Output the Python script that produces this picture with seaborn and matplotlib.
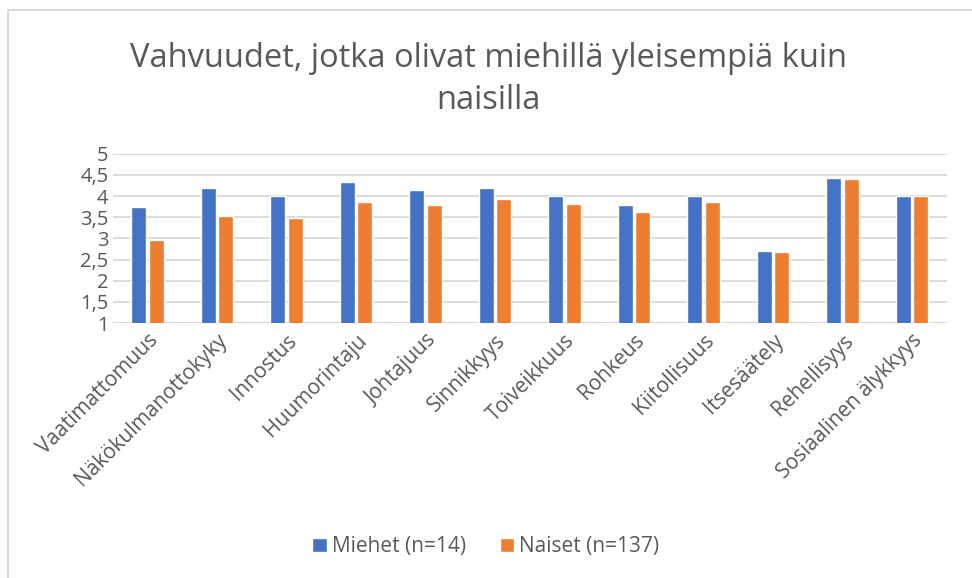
import seaborn as sns
import matplotlib.pyplot as plt
import matplotlib.lines as mlines
import pandas as pd

categories = ["Vaatimattomuus", "Näkökulmanottokyky", "Innostus", "Huumorintaju",
              "Johtajuus", "Sinnikkyys", "Toiveikkuus", "Rohkeus", "Kiitollisuus",
              "Itsesäätely", "Rehellisyys", "Sosiaalinen älykkyys"]
miehet = [3.74, 4.19, 4.0, 4.33, 4.15, 4.19, 4.0, 3.79, 4.0, 2.70, 4.42, 4.0]
naiset = [2.97, 3.53, 3.48, 3.85, 3.80, 3.92, 3.81, 3.63, 3.87, 2.68, 4.41, 4.0]
series = ["Miehet (n=14)", "Naiset (n=137)"]
yticks = [1, 1.5, 2, 2.5, 3, 3.5, 4, 4.5, 5]

df = pd.DataFrame({
    "kategoria": categories * 2,
    "arvo": miehet + naiset,
    "ryhma": [series[0]] * len(categories) + [series[1]] * len(categories),
})

sns.set_theme(style="white")
plt.rcParams['font.family'] = ['Open Sans', 'DejaVu Sans']
grey = "#595959"

fig = plt.figure(figsize=(9.72, 5.78), dpi=100)
ax = fig.add_axes([0.116, 0.441, 0.858, 0.293])

sns.barplot(data=df, x="kategoria", y="arvo", hue="ryhma", ax=ax,
            palette={series[0]: "#4472C4", series[1]: "#ED7D31"},
            width=0.5, gap=0.12, saturation=1, legend=True)

ax.set_ylim(1, 5)
ax.set_yticks(yticks)
ax.set_yticklabels([str(t).replace(".", ",").removesuffix(",0") for t in yticks],
                   fontsize=14.5, color=grey)
ax.yaxis.grid(True, color="#d9d9d9", linewidth=1.3)
ax.set_axisbelow(True)
ax.tick_params(axis="y", length=0, pad=3)
ax.tick_params(axis="x", length=0, pad=5)
plt.setp(ax.get_xticklabels(), rotation=45, ha="right", rotation_mode="anchor",
         fontsize=15, color=grey)
ax.set_xlabel("")
ax.set_ylabel("")
for s in ax.spines.values():
    s.set_visible(False)
ax.set_xlim(-0.5, len(categories) - 0.5)

handles, labels = ax.get_legend_handles_labels()
ax.get_legend().remove()
fig.legend(handles, labels, loc="center", bbox_to_anchor=(0.5, 0.054), ncol=2,
           frameon=False, fontsize=15, handlelength=0.7, handleheight=0.7,
           handletextpad=0.25, columnspacing=1.6, labelcolor=grey)

fig.text(0.503, 0.898, "Vahvuudet, jotka olivat miehillä yleisempiä kuin",
         ha="center", va="center", fontsize=23.5, color=grey)
fig.text(0.503, 0.826, "naisilla", ha="center", va="center", fontsize=23.5, color=grey)

# chart border (only top and left edges visible)
fig.add_artist(mlines.Line2D([8 / 972, 1], [1 - 10 / 578] * 2, color="#d9d9d9", lw=1.5))
fig.add_artist(mlines.Line2D([8 / 972] * 2, [0, 1 - 10 / 578], color="#d9d9d9", lw=1.5))

fig.savefig("out.png", dpi=100)
